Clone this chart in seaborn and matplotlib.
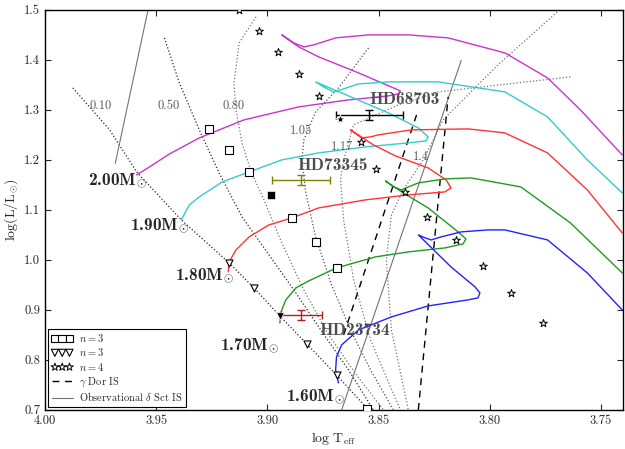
import matplotlib
matplotlib.use('Agg')
import numpy as np
import pandas as pd
import matplotlib.pyplot as plt
import seaborn as sns
from matplotlib.ticker import FormatStrFormatter, MultipleLocator

# evolutionary tracks (log Teff, log L/Lsun)
t200 = [3.9588, 3.9530, 3.9440, 3.9306, 3.9105, 3.8859, 3.8635, 3.8456, 3.8411, 3.8402, 3.8433,
        3.8590, 3.8769, 3.8859, 3.8935, 3.8881, 3.8836, 3.8791, 3.8693, 3.8545, 3.8366,
        3.8187, 3.7932, 3.7740, 3.7592, 3.7404]
l200 = [1.170, 1.186, 1.212, 1.244, 1.280, 1.306, 1.320, 1.328, 1.332, 1.338, 1.344,
        1.374, 1.406, 1.426, 1.450, 1.434, 1.426, 1.430, 1.444, 1.450, 1.450,
        1.444, 1.414, 1.364, 1.300, 1.210]

t190 = [3.9387, 3.9351, 3.9306, 3.9203, 3.9082, 3.8935, 3.8769, 3.8559, 3.8366, 3.8286,
        3.8277, 3.8321, 3.8456, 3.8635, 3.8783, 3.8747, 3.8702, 3.8657, 3.8590, 3.8456,
        3.8232, 3.7932, 3.7740, 3.7561, 3.7404]
l190 = [1.080, 1.110, 1.126, 1.156, 1.176, 1.200, 1.214, 1.226, 1.234, 1.238,
        1.246, 1.264, 1.294, 1.328, 1.356, 1.346, 1.336, 1.342, 1.352, 1.356,
        1.356, 1.336, 1.286, 1.200, 1.134]

t180 = [3.9176, 3.9172, 3.9141, 3.9082, 3.8993, 3.8890, 3.8769, 3.8559, 3.8366, 3.8201,
        3.8174, 3.8196, 3.8277, 3.8424, 3.8523, 3.8626, 3.8600, 3.8577, 3.8536, 3.8501,
        3.8353, 3.8098, 3.7932, 3.7740, 3.7561, 3.7404]
l180 = [0.976, 0.996, 1.020, 1.046, 1.070, 1.084, 1.104, 1.120, 1.130, 1.136,
        1.144, 1.160, 1.184, 1.208, 1.230, 1.260, 1.252, 1.244, 1.246, 1.250,
        1.260, 1.262, 1.254, 1.214, 1.140, 1.054]

t170 = [3.8944, 3.8935, 3.8917, 3.8872, 3.8814, 3.8689, 3.8514, 3.8366, 3.8201, 3.8120,
        3.8107, 3.8142, 3.8277, 3.8389, 3.8469, 3.8433, 3.8398, 3.8321, 3.8201, 3.8084,
        3.7860, 3.7637, 3.7404]
l170 = [0.874, 0.900, 0.920, 0.944, 0.958, 0.984, 1.006, 1.016, 1.024, 1.032,
        1.042, 1.056, 1.104, 1.134, 1.158, 1.146, 1.140, 1.154, 1.162, 1.164,
        1.146, 1.074, 0.974]

t160 = [3.8680, 3.8693, 3.8689, 3.8666, 3.8590, 3.8442, 3.8277, 3.8098, 3.8053, 3.8044,
        3.8066, 3.8174, 3.8321, 3.8290, 3.8263, 3.8219, 3.8129, 3.8008, 3.7932, 3.7740,
        3.7561, 3.7404]
l160 = [0.754, 0.780, 0.806, 0.830, 0.860, 0.886, 0.908, 0.920, 0.924, 0.934,
        0.946, 0.986, 1.050, 1.044, 1.040, 1.046, 1.056, 1.060, 1.060, 1.040,
        0.974, 0.900]

track_masses = ['2.00', '1.90', '1.80', '1.70', '1.60']
track_colors = ['#cc33cc', '#33cccc', '#ff3333', '#229922', '#2222ff']

# isochrones (Gyr)
iso_ages = ['0.10', '0.50', '0.80', '1.05', '1.17', '1.4']
iso_t = [
    [3.9875, 3.9709, 3.9588, 3.9387, 3.9172, 3.9060, 3.8944, 3.8823, 3.8689, 3.8545],
    [3.9463, 3.9396, 3.9306, 3.9217, 3.9114, 3.9002, 3.8881, 3.8760, 3.8635, 3.8523],
    [3.9051, 3.9127, 3.9150, 3.9141, 3.9114, 3.9073, 3.9015, 3.8935, 3.8836, 3.8724, 3.8599, 3.8478],
    [3.8545, 3.8680, 3.8783, 3.8836, 3.8845, 3.8827, 3.8783, 3.8711, 3.8626, 3.8536, 3.8433],
    [3.7637, 3.8232, 3.8411, 3.8612, 3.8657, 3.8671, 3.8657, 3.8612, 3.8536, 3.8402],
    [3.7686, 3.7963, 3.8210, 3.8299, 3.8389, 3.8442, 3.8465, 3.8442, 3.8366],
]
iso_l = [
    [1.344, 1.260, 1.176, 1.080, 0.994, 0.944, 0.888, 0.832, 0.770, 0.700],
    [1.444, 1.354, 1.260, 1.174, 1.086, 1.016, 0.940, 0.860, 0.780, 0.700],
    [1.486, 1.434, 1.354, 1.300, 1.234, 1.176, 1.120, 1.034, 0.940, 0.850, 0.770, 0.700],
    [1.424, 1.344, 1.296, 1.240, 1.200, 1.134, 1.046, 0.950, 0.860, 0.780, 0.700],
    [1.366, 1.336, 1.310, 1.270, 1.200, 1.160, 1.080, 0.960, 0.840, 0.700],
    [1.500, 1.390, 1.280, 1.200, 1.140, 1.090, 1.000, 0.860, 0.700],
]
iso_colors = ['0.15', '0.15', '0.45', '0.3', '0.45', '0.45']
iso_label_t = [3.9750, 3.9444, 3.9150, 3.8850, 3.8665, 3.8310]
iso_label_l = [1.308, 1.308, 1.308, 1.258, 1.226, 1.206]

# modes
sq_t = [3.9261, 3.9172, 3.9082, 3.8890, 3.8783, 3.8689, 3.8554]
sq_l = [1.262, 1.220, 1.176, 1.084, 1.036, 0.984, 0.702]
tri_t = [3.9172, 3.9060, 3.8823, 3.8689]
tri_l = [0.994, 0.944, 0.832, 0.770]
star_t = [3.9127, 3.9038, 3.8953, 3.8859, 3.8769, 3.8577, 3.8510, 3.8380, 3.8281,
          3.8151, 3.8031, 3.7905, 3.7762]
star_l = [1.500, 1.458, 1.416, 1.372, 1.328, 1.236, 1.182, 1.136, 1.086,
          1.040, 0.988, 0.934, 0.874]
filled_t = [3.8984, 3.8944, 3.8675]
filled_l = [1.130, 0.888, 1.282]

# instability strips
dsct_blue_t, dsct_blue_l = [3.9684, 3.9538], [1.193, 1.497]
dsct_red_t, dsct_red_l = [3.8666, 3.8128], [0.700, 1.399]
gdor_blue_t, gdor_blue_l = [3.8657, 3.8329], [0.850, 1.290]
gdor_red_t, gdor_red_l = [3.8321, 3.8187], [0.700, 1.326]

# stars with error bars
obj_names = ['HD68703', 'HD73345', 'HD23734']
obj_t = [3.8541, 3.8848, 3.8848]
obj_terr = [0.0152, 0.0131, 0.0095]
obj_l = [1.290, 1.159, 0.889]
obj_lerr = [0.010, 0.010, 0.010]
obj_colors = ['black', '#808000', '#b02020']
obj_label_t = [3.8385, 3.8705, 3.8605]
obj_label_l = [1.320, 1.188, 0.858]

mass_label_t = [3.9543, 3.9351, 3.9150, 3.8948, 3.8653]
mass_label_l = [1.158, 1.068, 0.968, 0.828, 0.726]

sns.set_style('ticks')
plt.rcParams['font.family'] = ['cmr10', 'DejaVu Serif']
plt.rcParams['mathtext.fontset'] = 'cm'
plt.rcParams['axes.formatter.use_mathtext'] = True
plt.rcParams['axes.unicode_minus'] = False

fig = plt.figure(figsize=(6.25, 4.49), dpi=100)
ax = fig.add_axes([0.072, 0.087, 0.925, 0.891])

for ts, ls, c in zip(iso_t, iso_l, iso_colors):
    d = pd.DataFrame({'t': ts, 'l': ls})
    sns.lineplot(data=d, x='t', y='l', sort=False, estimator=None, ax=ax,
                 color=c, lw=0.9, linestyle=':')
for age, x, y in zip(iso_ages, iso_label_t, iso_label_l):
    ax.text(x, y, age, fontsize=9, color='0.35', ha='center', va='center')

ax.plot(dsct_blue_t, dsct_blue_l, color='0.45', lw=0.8)
ax.plot(dsct_red_t, dsct_red_l, color='0.45', lw=0.8)
ax.plot(gdor_blue_t, gdor_blue_l, color='black', lw=1.0, ls=(0, (5, 4)))
ax.plot(gdor_red_t, gdor_red_l, color='black', lw=1.0, ls=(0, (5, 4)))

tracks = [(t200, l200), (t190, l190), (t180, l180), (t170, l170), (t160, l160)]
for (ts, ls), c in zip(tracks, track_colors):
    d = pd.DataFrame({'t': ts, 'l': ls})
    sns.lineplot(data=d, x='t', y='l', sort=False, estimator=None, ax=ax, color=c, lw=1.0)

for m, x, y in zip(track_masses, mass_label_t, mass_label_l):
    ax.text(x, y, m + r'M$_{\odot}$', fontsize=12.5, family='cmb10', ha='right', va='center')

for n, x, xe, y, ye, c, lx, ly in zip(obj_names, obj_t, obj_terr, obj_l, obj_lerr,
                                      obj_colors, obj_label_t, obj_label_l):
    ax.errorbar(x, y, xerr=xe, yerr=ye, color=c, lw=1.0, capsize=3, capthick=1.0)
    ax.text(lx, ly, n, fontsize=12.5, family='cmb10', color='0.3', ha='center', va='center')

sns.scatterplot(x=sq_t, y=sq_l, marker='s', s=30, facecolor='white', edgecolor='black',
                linewidth=0.8, ax=ax, label=r'$n=3$', zorder=5)
sns.scatterplot(x=tri_t, y=tri_l, marker='v', s=26, facecolor='white', edgecolor='black',
                linewidth=0.8, ax=ax, label=r'$n=3$', zorder=5)
sns.scatterplot(x=star_t, y=star_l, marker='*', s=34, facecolor='white', edgecolor='black',
                linewidth=0.7, ax=ax, label=r'$n=4$', zorder=5)
sns.scatterplot(x=filled_t[:1], y=filled_l[:1], marker='s', s=30, color='black', ax=ax, zorder=6)
sns.scatterplot(x=filled_t[1:2], y=filled_l[1:2], marker='v', s=28, color='black', ax=ax, zorder=6)
sns.scatterplot(x=filled_t[2:], y=filled_l[2:], marker='*', s=45, color='black', ax=ax, zorder=6)

ax.plot([], [], color='black', lw=1.0, ls=(0, (5, 4)), label=r'$\gamma$ Dor IS')
ax.plot([], [], color='0.45', lw=0.8, label=r'Observational $\delta$ Sct IS')

ax.set_xlim(4.00, 3.74)
ax.set_ylim(0.7, 1.5)
ax.xaxis.set_major_locator(MultipleLocator(0.05))
ax.yaxis.set_major_locator(MultipleLocator(0.1))
ax.xaxis.set_major_formatter(FormatStrFormatter('%.2f'))
ax.yaxis.set_major_formatter(FormatStrFormatter('%.1f'))
ax.tick_params(direction='in', top=True, right=True, length=4, width=0.8, labelsize=9)
for sp in ax.spines.values():
    sp.set_linewidth(1.0)
    sp.set_color('black')
ax.set_xlabel(r'$\log\,\mathrm{T_{eff}}$', fontsize=10, labelpad=2)
ax.set_ylabel(r'$\log(\mathrm{L/L_{\odot}})$', fontsize=10, labelpad=3)

leg = ax.legend(loc='lower left', fontsize=7.5, scatterpoints=3, scatteryoffsets=[0.5],
                fancybox=False, edgecolor='black', framealpha=1, borderpad=0.35,
                handlelength=2.0, handletextpad=0.6, labelspacing=0.22, borderaxespad=0.3)
leg.get_frame().set_linewidth(0.8)

fig.savefig('out.png', dpi=100)
